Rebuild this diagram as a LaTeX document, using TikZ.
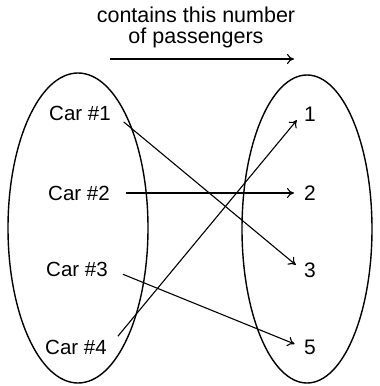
\documentclass[tikz,border=0pt]{standalone}
\usepackage{fontspec}
\setmainfont{Liberation Sans}
\usetikzlibrary{
	positioning,
	arrows.meta
}

\tikzset{
	carlabel/.style={
		font=\fontsize{20.5}{22}\selectfont,
		inner sep=2pt
	},
	numlabel/.style={
		font=\fontsize{21}{22}\selectfont,
		inner sep=2pt
	},
	maparrow/.style={
		-{To[length=7pt,width=10pt]},
		line width=1.1pt,
		shorten <=14pt,
		shorten >=8pt
	}
}

\begin{document}
\begin{tikzpicture}[x=1pt,y=-1pt]
				
				\useasboundingbox (0,0) rectangle (380,386);
				
				% the two sets
				\draw[
				line width=1.4pt
				]
				(78,228) ellipse [x radius=70, y radius=155];
				
				\draw[
				line width=1.4pt
				]
				(307,229) ellipse [x radius=65, y radius=154];
				
				% heading
				\node[
				align=center,
				font=\fontsize{21.5}{21}\selectfont
				] (title)
				at (196,27)
				{contains this number\\of passengers};
				
				\coordinate (topstart) at (110,59);
				\coordinate (topend) at (294,59);
				\draw[maparrow, shorten <=0pt, shorten >=0pt] (topstart) -- (topend);
				
				% cars
				\node[carlabel] (car1) at (80,113) {Car \#1};
				\node[carlabel] (car2) at (79,193) {Car \#2};
				\node[carlabel] (car3) at (77,269) {Car \#3};
				\node[carlabel] (car4) at (76,347) {Car \#4};
				
				% numbers of passengers
				\node[numlabel] (n1) at (310,114) {1};
				\node[numlabel] (n2) at (310,193) {2};
				\node[numlabel] (n3) at (310,270) {3};
				\node[numlabel] (n5) at (310,347) {5};
				
				% mapping
				\draw[maparrow] (car1.east) -- (n3.west);
				\draw[maparrow] (car2.east) -- (n2.west);
				\draw[maparrow] (car3.east) -- (n5.west);
				\draw[maparrow] (car4.east) -- (n1.west);
				
			\end{tikzpicture}
\end{document}
